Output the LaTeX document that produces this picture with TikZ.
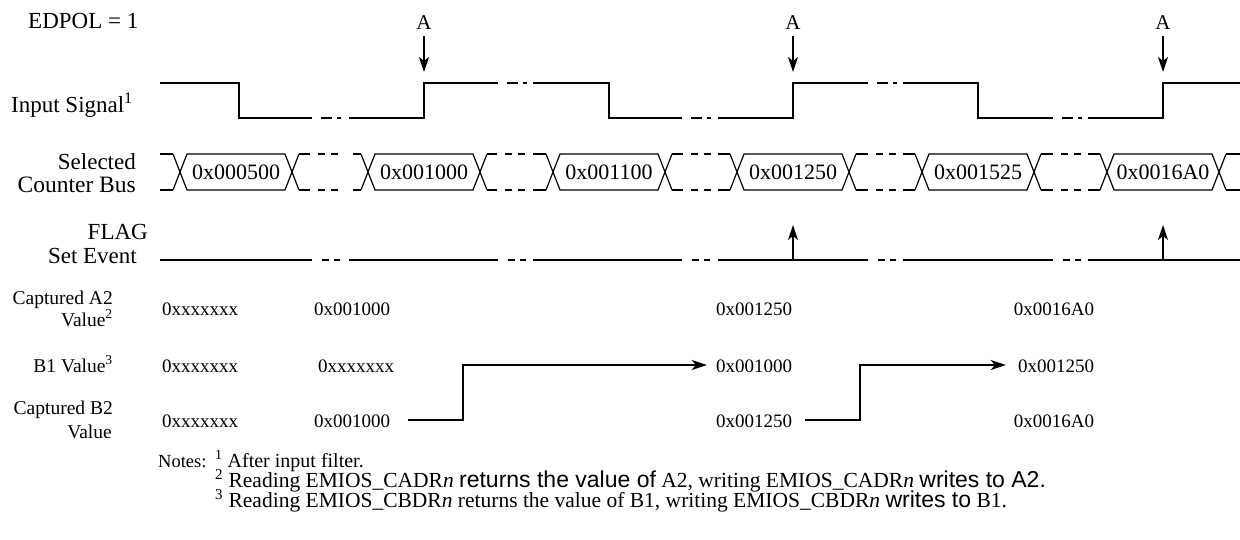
\documentclass[tikz,border=0pt]{standalone}
\usepackage{fontspec}
\setmainfont{Liberation Serif}
\newfontfamily\arialf{Liberation Sans}
\usetikzlibrary{arrows.meta}
\newcommand\snote[1]{{\arialf\fontsize{23}{25}\selectfont #1}}
\begin{document}
\begin{tikzpicture}[x=1pt,y=-1pt,
  sig/.style={line width=2pt},
  busln/.style={line width=1.2pt},
  arr/.style={line width=2pt,-{Stealth[length=15pt,width=10pt,inset=4pt]}},
  toplab/.style={inner sep=0pt,anchor=base east,font=\fontsize{23}{26}\selectfont},
  botlab/.style={inner sep=0pt,anchor=base east,font=\fontsize{19.5}{22}\selectfont},
  val/.style={inner sep=0pt,anchor=base,font=\fontsize{19}{22}\selectfont},
  busval/.style={inner sep=0pt,font=\fontsize{22}{24}\selectfont},
  alab/.style={inner sep=0pt,anchor=base,font=\fontsize{21}{24}\selectfont},
  noteA/.style={inner sep=0pt,anchor=base west,font=\fontsize{18.5}{20}\selectfont},
  noteB/.style={inner sep=0pt,anchor=base west,font=\fontsize{21.5}{22}\selectfont},
]
\useasboundingbox (0,0) rectangle (1240,540);

% ---------- left labels ----------
\node[toplab,anchor=base west] (edpol) at (28,28.6) {EDPOL = 1};
\node[toplab] (insig) at (133,112.5) {Input Signal\textsuperscript{1}};
\node[toplab] (sel) at (136,170) {Selected};
\node[toplab,font=\fontsize{23.5}{26}\selectfont] (cbus) at (136,193) {Counter Bus};
\node[toplab] (flag) at (148,240) {FLAG};
\node[toplab] (setev) at (137,263) {Set Event};
\node[botlab] (capa) at (113,304) {Captured A2};
\node[botlab] (vala) at (113,326) {Value\textsuperscript{2}};
\node[botlab] (bonev) at (113,372) {B1 Value\textsuperscript{3}};
\node[botlab] (capb) at (113,414.5) {Captured B2};
\node[botlab] (valb) at (112,438.5) {Value};

% ---------- input signal ----------
\draw[sig] (160,83) -- (239,83) -- (239,118) -- (312,118);
\draw[sig] (349,118) -- (424,118) -- (424,83) -- (498,83);
\draw[sig] (533,83) -- (609,83) -- (609,118) -- (682,118);
\draw[sig] (718,118) -- (793,118) -- (793,83) -- (868,83);
\draw[sig] (903,83) -- (978,83) -- (978,118) -- (1053,118);
\draw[sig] (1088,118) -- (1163,118) -- (1163,83) -- (1240,83);
\foreach \a/\y in {312/118,498/83,682/118,868/83,1053/118}{
  \draw[sig] ({\a+9},\y) -- ({\a+20},\y);
  \draw[sig] ({\a+25},\y) -- ({\a+29},\y);
}

% ---------- A markers ----------
\foreach \x/\n in {424/1,793/2,1163/3}{
  \coordinate (edge\n) at (\x,83);
  \node[alab] (A\n) at (\x,29.5) {A};
  \draw[arr] ([yshift=-6pt]A\n.south) -- ([yshift=11pt]edge\n);
}

% ---------- counter bus ----------
\foreach \c in {236,424,609,793,978,1163}{
  \draw[busln] ({\c-63},154) -- ({\c-49},190) -- ({\c+49},190) -- ({\c+63},154);
  \draw[busln] ({\c-63},190) -- ({\c-49},154) -- ({\c+49},154) -- ({\c+63},190);
}
\foreach \p/\q in {160/173,299/310,353/361,487/497,533/546,672/683,718/730,856/868,903/915,1041/1053,1088/1100,1226/1240}{
  \draw[busln] (\p,154) -- (\q,154);
  \draw[busln] (\p,190) -- (\q,190);
}
\foreach \a in {310,497,683,868,1053}{
  \foreach \y in {154,190}{
    \draw[busln] ({\a+8},\y) -- ({\a+15},\y);
    \draw[busln] ({\a+21},\y) -- ({\a+28},\y);
  }
}
\node[busval] (bv1) at (236,172) {0x000500};
\node[busval] (bv2) at (424,172) {0x001000};
\node[busval] (bv3) at (609,172) {0x001100};
\node[busval] (bv4) at (793,172) {0x001250};
\node[busval] (bv5) at (978,172) {0x001525};
\node[busval] (bv6) at (1163,172) {0x0016A0};

% ---------- FLAG set event ----------
\foreach \p/\q in {160/312,349/498,533/682,718/868,903/1053,1088/1240}{
  \draw[sig] (\p,260) -- (\q,260);
}
\foreach \a in {312,498,682,868,1053}{
  \draw[sig] ({\a+10},260) -- ({\a+17},260);
  \draw[sig] ({\a+22},260) -- ({\a+28},260);
}
\coordinate (fl1) at (793,260);
\coordinate (fl2) at (1163,260);
\draw[arr] (fl1) -- ([yshift=35pt]fl1);
\draw[arr] (fl2) -- ([yshift=35pt]fl2);

% ---------- values ----------
\node[val] (a1) at (200,316) {0xxxxxxx};
\node[val] (a2) at (352,316) {0x001000};
\node[val] (a3) at (754,316) {0x001250};
\node[val] (a4) at (1054,316) {0x0016A0};
\node[val] (b1) at (200,372) {0xxxxxxx};
\node[val] (b2) at (356,372) {0xxxxxxx};
\node[val] (b3) at (754,372) {0x001000};
\node[val] (b4) at (1056,372) {0x001250};
\node[val] (c1) at (200,427) {0xxxxxxx};
\node[val] (c2) at (352,427) {0x001000};
\node[val] (c3) at (754,427) {0x001250};
\node[val] (c4) at (1054,427) {0x0016A0};

\draw[arr] ([xshift=18pt,yshift=7pt]c2.base east) -- ++(55,0) |- ([xshift=-9pt,yshift=7pt]b3.base west);
\draw[arr] ([xshift=13pt,yshift=7pt]c3.base east) -- ++(55,0) |- ([xshift=-12pt,yshift=7pt]b4.base west);

% ---------- notes ----------
\node[noteA] (notes) at (158,467) {Notes:};
\node[noteA,font=\fontsize{20}{22}\selectfont] (n1) at (215,467) {\textsuperscript{1} After input filter.};
\node[noteB] (n2) at (215,487) {\textsuperscript{2} Reading EMIOS\_CADR\textit{n} \snote{returns the value of} A2, writing EMIOS\_CADR\textit{n} \snote{writes to A2.}};
\node[noteB] (n3) at (215,507.5) {\textsuperscript{3} Reading EMIOS\_CBDR\textit{n} returns the value of B1, writing EMIOS\_CBDR\textit{n} \snote{writes to} B1.};
\end{tikzpicture}
\end{document}
